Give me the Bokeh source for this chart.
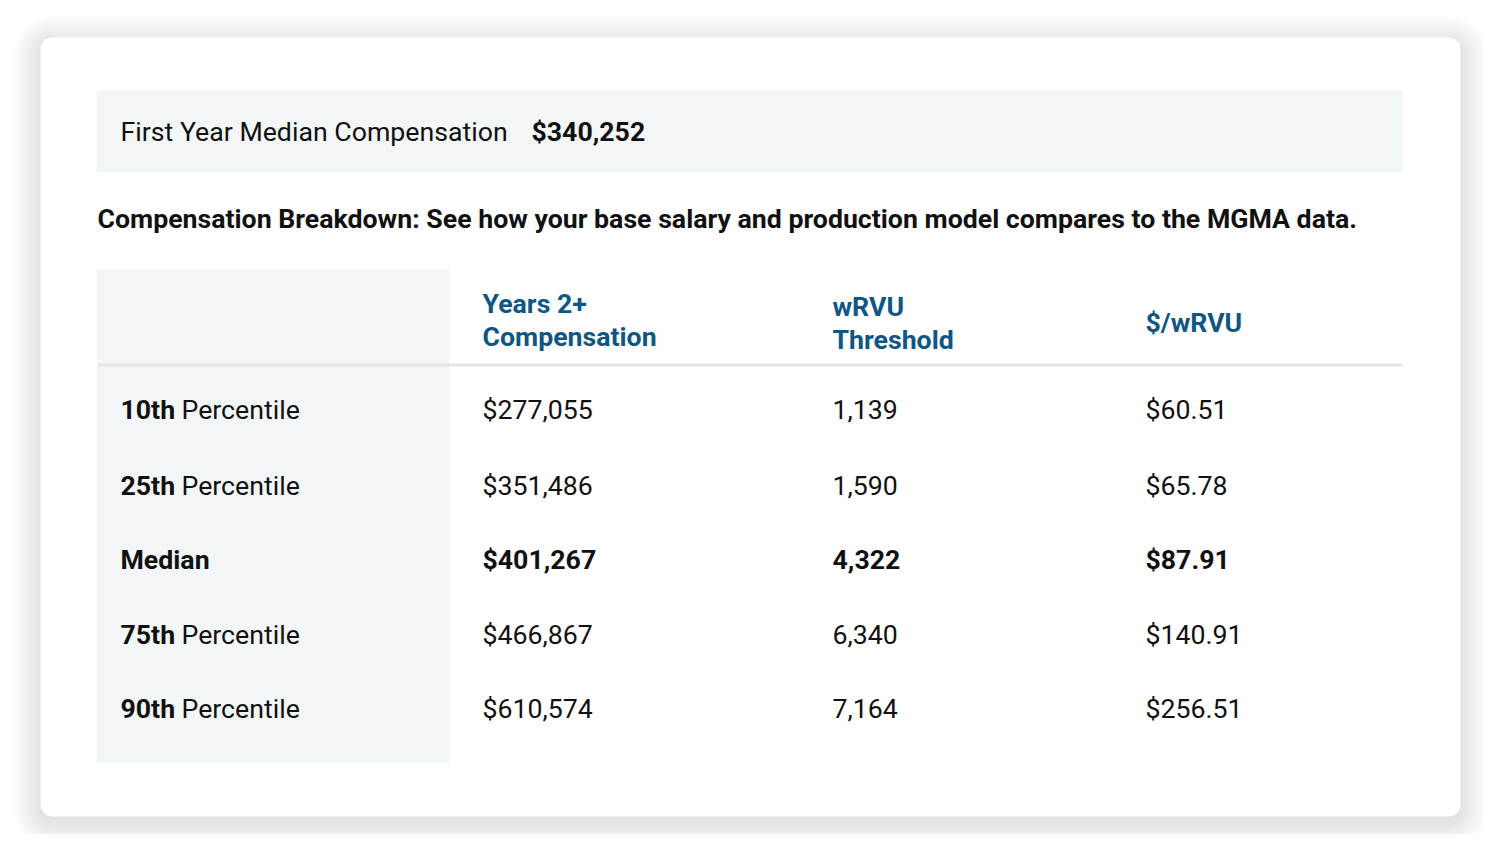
from bokeh.plotting import figure
from bokeh.models import Range1d, ColumnDataSource
from bokeh.core.properties import value
from bokeh.embed import file_html
from bokeh.resources import INLINE

# ---- data ----
summary_label = "First Year Median Compensation"
summary_value = "$340,252"
subtitle = "Compensation Breakdown: See how your base salary and production model compares to the MGMA data."
col_headers = [["Years 2+", "Compensation"], ["wRVU", "Threshold"], ["$/wRVU"]]
row_bold = ["10th", "25th", "Median", "75th", "90th"]
row_rest = ["Percentile", "Percentile", "", "Percentile", "Percentile"]
compensation = ["$277,055", "$351,486", "$401,267", "$466,867", "$610,574"]
wrvu_threshold = ["1,139", "1,590", "4,322", "6,340", "7,164"]
dollars_per_wrvu = ["$60.51", "$65.78", "$87.91", "$140.91", "$256.51"]
highlight_row = "Median"

FONT = value("Roboto")
BLUE = "#0e5683"
INK = "#111111"
BAND = "#f3f6f7"
FS = "26.7px"

p = figure(width=1484, height=834, output_backend="svg", toolbar_location=None,
           x_range=Range1d(0, 1484), y_range=Range1d(834, 0), min_border=0)
p.axis.visible = False
p.grid.visible = False
p.outline_line_color = None
p.background_fill_color = "white"
p.border_fill_color = "white"

# shadow of the card
L, R, T, B = 40, 1460, 37, 816
for i in range(28, 0, -1):
    p.quad(left=L - i, right=R + i, top=T - i + 5, bottom=B + i + 5,
           fill_color="black", fill_alpha=0.004, line_color=None,
           border_radius=12 + i)
p.quad(left=L, right=R, top=T, bottom=B, fill_color="white", line_color=None, border_radius=12)

# summary band
p.quad(left=96, right=1402, top=90, bottom=172, fill_color=BAND, line_color=None)
p.text(x=[120], y=[131], text=[summary_label], text_font=FONT, text_font_size=FS,
       text_color=INK, text_baseline="middle")
p.text(x=[531], y=[131], text=[summary_value], text_font=FONT, text_font_size=FS,
       text_font_style="bold", text_color=INK, text_baseline="middle")

# subtitle
p.text(x=[97], y=[218], text=[subtitle], text_font=FONT, text_font_size="26.7px",
       text_font_style="bold", text_color=INK, text_baseline="middle")

# table: label column band and header line
p.quad(left=96, right=449, top=269, bottom=762, fill_color=BAND, line_color=None)
p.segment(x0=[98], y0=[364.5], x1=[1402], y1=[364.5], line_color="#e2e4e7", line_width=3)

col_x = [482, 832, 1145]
header_y = {2: [303, 336], 1: [322]}
for cx, hdr in zip(col_x, col_headers):
    ys = header_y[len(hdr)]
    if cx == 832:
        ys = [y + 3 for y in ys]
    p.text(x=[cx] * len(hdr), y=ys, text=hdr, text_font=FONT, text_font_size=FS,
           text_font_style="bold", text_color=BLUE, text_baseline="middle")

row_y = [409, 485, 559, 634, 708]
src = ColumnDataSource(dict(
    y=row_y, bold=row_bold, rest=row_rest, c1=compensation, c2=wrvu_threshold, c3=dollars_per_wrvu,
    style=["bold" if b == highlight_row else "normal" for b in row_bold],
))
p.text(x=120, y="y", text="bold", source=src, text_font=FONT, text_font_size=FS,
       text_font_style="bold", text_color=INK, text_baseline="middle")
p.text(x=181, y="y", text="rest", source=src, text_font=FONT, text_font_size=FS,
       text_color=INK, text_baseline="middle")
for cx, col in zip(col_x, ["c1", "c2", "c3"]):
    p.text(x=cx, y="y", text=col, source=src, text_font=FONT, text_font_size=FS,
           text_font_style="style", text_color=INK, text_baseline="middle")

open("out.html", "w").write(file_html(p, INLINE))
